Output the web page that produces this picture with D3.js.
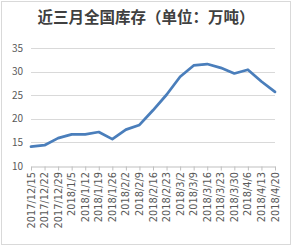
<!DOCTYPE html>
<html>
<head>
<meta charset="utf-8">
<script src="https://cdn.jsdelivr.net/npm/d3@7"></script>
<style>
  body { margin: 0; background: #fff; }
  svg { display: block; font-family: "Noto Sans CJK SC", "Liberation Sans", sans-serif; }
</style>
</head>
<body>
<div id="chart"></div>
<script>
// Data
const dates = ["2017/12/15", "2017/12/22", "2017/12/29", "2018/1/5", "2018/1/12", "2018/1/19",
    "2018/1/26", "2018/2/2", "2018/2/9", "2018/2/16", "2018/2/23", "2018/3/2", "2018/3/9",
    "2018/3/16", "2018/3/23", "2018/3/30", "2018/4/6", "2018/4/13", "2018/4/20"];
const stock = [14.1, 14.4, 15.9, 16.7, 16.7, 17.2, 15.7, 17.7, 18.7, 21.8, 25.1, 28.9, 31.3,
    31.6, 30.8, 29.6, 30.4, 27.9, 25.7];
const yTicks = [10, 15, 20, 25, 30, 35];

const width = 292, height = 246;
const margin = { top: 48, right: 17, bottom: 80, left: 31 };

const svg = d3.select("#chart").append("svg")
    .attr("width", width)
    .attr("height", height);

// Outer border
svg.append("rect")
    .attr("x", 1.5).attr("y", 1.5)
    .attr("width", width - 3).attr("height", height - 3)
    .attr("fill", "#fff")
    .attr("stroke", "#d9d9d9");

const xScale = d3.scalePoint()
    .domain(dates)
    .range([margin.left, width - margin.right]);

const yScale = d3.scaleLinear()
    .domain([10, 35])
    .range([height - margin.bottom, margin.top]);

// Gridlines
svg.append("g")
    .selectAll("line")
    .data(yTicks.filter(d => d > 10))
    .enter().append("line")
    .attr("x1", margin.left)
    .attr("x2", width - margin.right)
    .attr("y1", d => Math.round(yScale(d)) + 0.5)
    .attr("y2", d => Math.round(yScale(d)) + 0.5)
    .attr("stroke", "#d9d9d9");

// Y axis labels
svg.append("g")
    .selectAll("text")
    .data(yTicks)
    .enter().append("text")
    .attr("x", 23)
    .attr("y", d => yScale(d) + 3.5)
    .attr("text-anchor", "end")
    .attr("font-size", "10px")
    .attr("fill", "#595959")
    .text(d => d);

// X axis
const xAxis = d3.axisBottom(xScale).tickSize(4).tickSizeOuter(0).tickFormat("");
const xAxisGroup = svg.append("g")
    .attr("transform", `translate(0,${Math.round(yScale(10)) + 0.5})`)
    .call(xAxis);
xAxisGroup.select(".domain").attr("stroke", "#bfbfbf");
xAxisGroup.selectAll(".tick line").attr("stroke", "#bfbfbf");

// X labels, rotated
svg.append("g")
    .selectAll("text")
    .data(dates)
    .enter().append("text")
    .attr("transform", d => `translate(${xScale(d) + 3.5},${yScale(10) + 6}) rotate(-90)`)
    .attr("text-anchor", "end")
    .attr("font-family", "DejaVu Sans, sans-serif")
    .attr("font-size", "9.8px")
    .attr("fill", "#595959")
    .text(d => d);

// Line
const line = d3.line()
    .x((d, i) => xScale(dates[i]))
    .y(d => yScale(d));

svg.append("path")
    .datum(stock)
    .attr("d", line)
    .attr("fill", "none")
    .attr("stroke", "#4a7ebb")
    .attr("stroke-width", 2.75)
    .attr("stroke-linejoin", "round")
    .attr("stroke-linecap", "round");

// Title
svg.append("text")
    .attr("x", width / 2)
    .attr("y", 23)
    .attr("text-anchor", "middle")
    .attr("font-size", "15.5px")
    .attr("font-weight", "bold")
    .attr("fill", "#404040")
    .text("近三月全国库存（单位：万吨）");
</script>
</body>
</html>
